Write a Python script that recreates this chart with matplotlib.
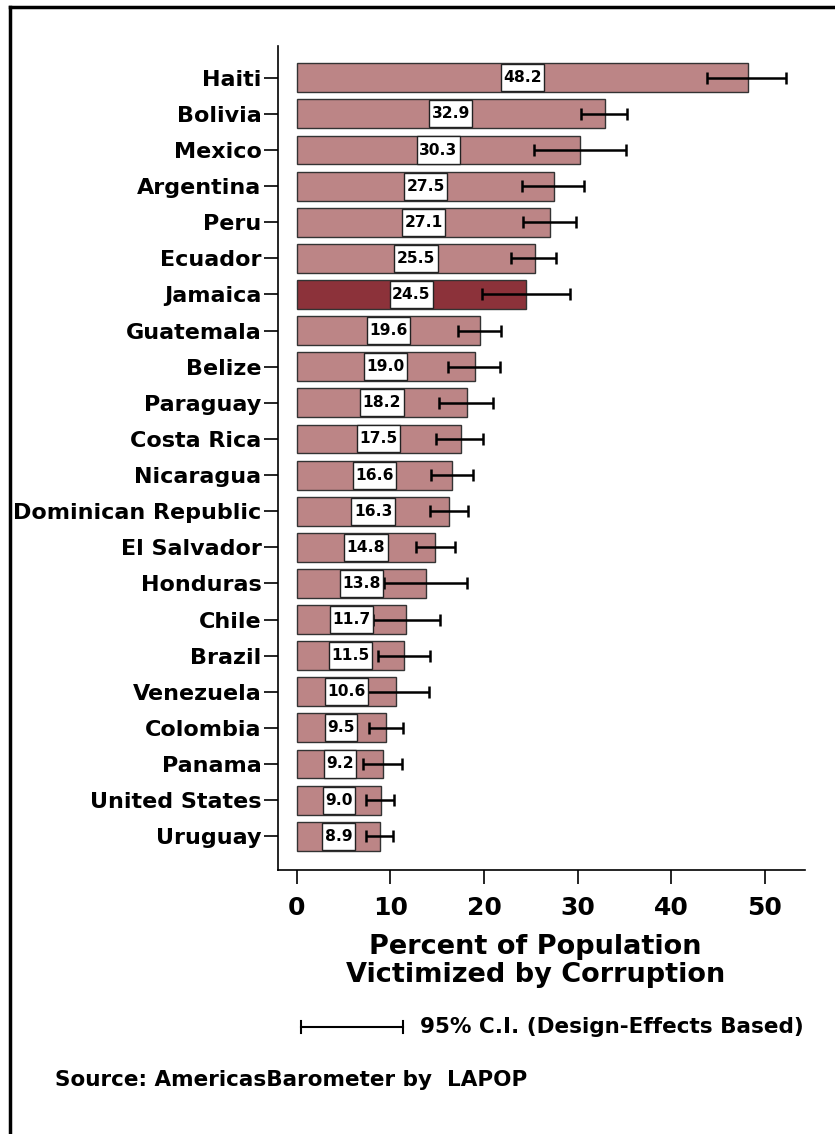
import matplotlib
matplotlib.use("Agg")
import matplotlib.pyplot as plt
from matplotlib.lines import Line2D
from matplotlib.patches import Rectangle

countries = ["Haiti", "Bolivia", "Mexico", "Argentina", "Peru", "Ecuador", "Jamaica",
             "Guatemala", "Belize", "Paraguay", "Costa Rica", "Nicaragua",
             "Dominican Republic", "El Salvador", "Honduras", "Chile", "Brazil",
             "Venezuela", "Colombia", "Panama", "United States", "Uruguay"]
values = [48.2, 32.9, 30.3, 27.5, 27.1, 25.5, 24.5, 19.6, 19.0, 18.2, 17.5, 16.6,
          16.3, 14.8, 13.8, 11.7, 11.5, 10.6, 9.5, 9.2, 9.0, 8.9]
ci_low = [43.8, 30.4, 25.3, 24.1, 24.2, 22.9, 19.8, 17.2, 16.2, 15.2, 14.9, 14.3,
          14.2, 12.7, 9.3, 8.1, 8.7, 7.1, 7.7, 7.1, 7.4, 7.4]
ci_high = [52.3, 35.3, 35.2, 30.7, 29.8, 27.7, 29.2, 21.8, 21.7, 21.0, 19.9, 18.8,
           18.3, 16.9, 18.2, 15.3, 14.2, 14.1, 11.3, 11.2, 10.4, 10.3]
highlight = "Jamaica"
xticks = [0, 10, 20, 30, 40, 50]

plt.rcParams["font.family"] = ["DejaVu Sans"]
W = "bold"

fig = plt.figure(figsize=(8.35, 11.34), dpi=100)
ax = fig.add_axes([0.333, 0.2328, 0.631, 0.7269])

ypos = list(range(len(countries)))
colors = ["#8C323A" if c == highlight else "#BC8586" for c in countries]
ax.barh(ypos, values, height=0.8, color=colors, edgecolor="#333333", linewidth=1.0, zorder=2)
xerr = [[v - lo for v, lo in zip(values, ci_low)], [hi - v for v, hi in zip(values, ci_high)]]
ax.errorbar(values, ypos, xerr=xerr, fmt="none", ecolor="black", elinewidth=1.8,
            capsize=4.6, capthick=1.8, zorder=3)

ax.set_xlim(-2.0, 54.3)
ax.set_ylim(21.936, -0.889)
ax.set_yticks(ypos)
ax.set_yticklabels(countries, fontsize=16, fontweight=W)
ax.set_xticks(xticks)
ax.set_xticklabels([str(t) for t in xticks], fontsize=18, fontweight=W)
ax.tick_params(axis="y", length=10, width=1.2, pad=2)
ax.tick_params(axis="x", length=10, width=1.2, pad=9)
for s in ["top", "right"]:
    ax.spines[s].set_visible(False)
for s in ["left", "bottom"]:
    ax.spines[s].set_linewidth(1.2)

texts = []
for y, v in zip(ypos, values):
    t = ax.text(v / 2, y, f"{v:.1f}", ha="center", va="center", fontsize=11.2,
                fontweight=W, zorder=6)
    texts.append((t, y, v))

fig.canvas.draw()
renderer = fig.canvas.get_renderer()
inv = ax.transData.inverted()
for t, y, v in texts:
    bb = t.get_window_extent(renderer)
    x0 = inv.transform((bb.x0 - 2.5, 0))[0]
    x1 = inv.transform((bb.x1 + 2.5, 0))[0]
    ax.add_patch(Rectangle((x0, y - 0.375), x1 - x0, 0.75, facecolor="white",
                           edgecolor="#222222", linewidth=1.0, zorder=5))

fig.text(0.641, 1 - 947 / 1134, "Percent of Population", ha="center", va="center",
         fontsize=19.5, fontweight=W)
fig.text(0.641, 1 - 975 / 1134, "Victimized by Corruption", ha="center", va="center",
         fontsize=19.5, fontweight=W)

# CI legend
yl = 1 - 1027 / 1134
fig.add_artist(Line2D([301 / 835, 403 / 835], [yl, yl], color="black", lw=1.5))
for xx in (301 / 835, 403 / 835):
    fig.add_artist(Line2D([xx, xx], [yl - 6 / 1134, yl + 6 / 1134], color="black", lw=1.5))
fig.text(420 / 835, yl, "95% C.I. (Design-Effects Based)", ha="left", va="center",
         fontsize=15.5, fontweight=W)

fig.text(55 / 835, 1 - 1080 / 1134, "Source: AmericasBarometer by  LAPOP", ha="left",
         va="center", fontsize=15.5, fontweight=W)

# frame (top and left visible)
fig.add_artist(Line2D([9.5 / 835, 1.0], [1 - 7 / 1134, 1 - 7 / 1134], color="black", lw=2.5))
fig.add_artist(Line2D([9.5 / 835, 9.5 / 835], [0, 1 - 7 / 1134], color="black", lw=2.5))

fig.savefig("out.png", dpi=100)
